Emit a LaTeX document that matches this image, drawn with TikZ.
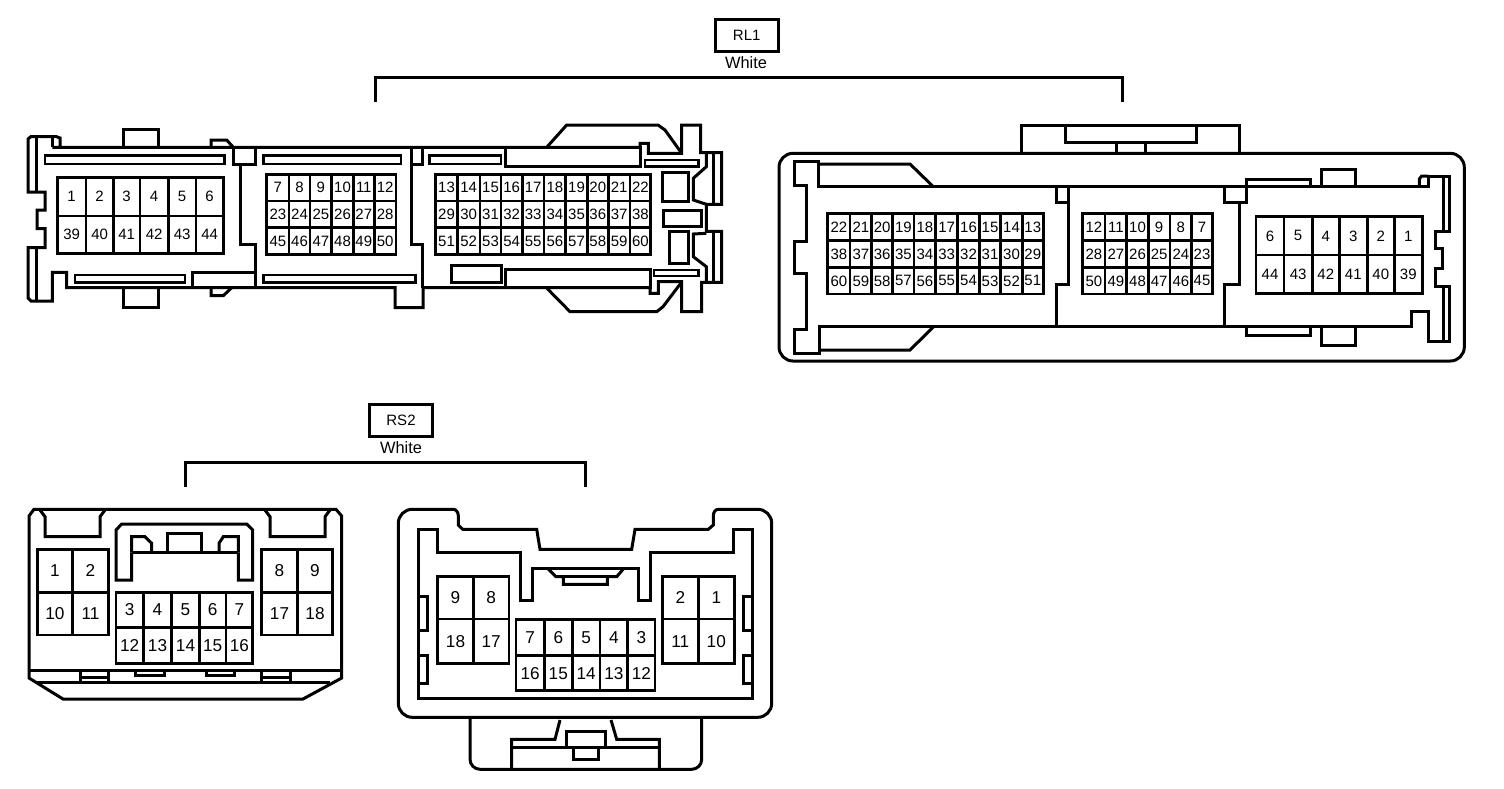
\documentclass[tikz,border=0pt]{standalone}
\usepackage{fontspec}
\setmainfont{Liberation Sans}

\tikzset{
  part/.style={line width=1.5pt, line join=miter},
  slim/.style={line width=1.3pt},
  pinbox/.style={line width=1.3pt},
  pinnum/.style={inner sep=0pt, font=\fontsize{7.5}{9}\selectfont},
  pinbig/.style={inner sep=0pt, font=\fontsize{8.6}{10}\selectfont},
  tagbox/.style={draw, line width=1.5pt, minimum width=31.5pt, minimum height=16pt, inner sep=0pt, font=\fontsize{7.5}{9}\selectfont},
  tagtext/.style={inner sep=0pt, font=\fontsize{8.2}{9}\selectfont},
}

% prefix, numstyle, top, bottom, first x, {next x/label,...}
\newcommand{\pinrow}[6]{%
  \foreach \xb/\lbl [remember=\xb as \xa (initially #5)] in {#6} {
    \draw[pinbox] (\xa,#3) rectangle (\xb,#4);
    \node[#2] (#1-\lbl) at ({(\xa+\xb)/2},{(#3+#4)/2}) {\lbl};
  }%
}

\begin{document}
\begin{tikzpicture}[x=0.5pt,y=-0.5pt]
      \useasboundingbox (0,0) rectangle (1504,788);

      % tags and brackets
      \node[tagbox] (rlone) at (746.7,35.5) {RL1};
      \node[tagtext] (rlonecol) at (746,63) {White};
      \coordinate (rlonea) at (375,102);
      \coordinate (rloneb) at (1122,102);
      \draw[part] (rlonea) -- (375,77.7) -- (1122,77.7) -- (rloneb);

      \node[tagbox] (rstwo) at (401,420) {RS2};
      \node[tagtext] (rstwocol) at (401,448) {White};
      \coordinate (rstwoa) at (185,487);
      \coordinate (rstwob) at (585,487);
      \draw[part] (rstwoa) -- (185,462) -- (585,462) -- (rstwob);

      % RL1 left half
      \draw[part] (60,147.3) -- (60,138) -- (56,136.5) -- (31,136.5) -- (28,139) -- (28,192) -- (45,192) -- (45,210) -- (37,210) -- (37,228.5)
        -- (45,228.5) -- (45,247.5) -- (28,247.5) -- (28,298) -- (31,301) -- (52.3,301) -- (52.3,272.3) -- (66.7,272.3) -- (66.7,287.7)
        -- (395,287.7) -- (395,307.7) -- (423,307.7) -- (423,287.7) -- (650,287.7) -- (650,293.3) -- (658.3,293.3) -- (658.3,281.7) -- (681.7,281.7)
        -- (681.7,311.7) -- (701.7,311.7) -- (701.7,282.3) -- (721.7,282.3) -- (721.7,231.3) -- (706.3,231.3) -- (706.3,204.3) -- (721.7,204.3)
        -- (721.7,152.7) -- (700.7,152.7) -- (700.7,125) -- (681.7,125) -- (681.7,153.3) -- (648.3,153.3) -- (648.3,143.3) -- (640,143.3) -- (640,147.3) -- (52.3,147.3);
      \draw[part] (52.3,147.3) -- (52.3,136.5);
      \draw[part] (36.7,136.5) -- (36.7,192);
      \draw[part] (36.7,247.5) -- (36.7,300);
      \draw[part] (123.3,147.3) -- (123.3,129) -- (158.3,129) -- (158.3,147.3);
      \draw[part] (123.3,287.7) -- (123.3,307.7) -- (158.3,307.7) -- (158.3,287.7);
      \draw[part] (211,147.3) -- (211,140) -- (226.7,140) -- (233.3,147.3);
      \draw[part] (211,287.7) -- (211,295.7) -- (223.3,295.7) -- (231.7,287.7);
      \draw[part] (233.3,147.3) rectangle (255,164);
      \draw[part] (240,164) -- (240,244.3) -- (255,244.3) -- (255,287.7);
      \draw[part] (411.7,147.3) rectangle (422.7,164);
      \draw[part] (411.7,164) -- (411.7,244.3) -- (422.7,244.3) -- (422.7,287.7);
      \draw[slim] (45,155.7) rectangle (224.3,164);
      \draw[slim] (263.3,155.7) rectangle (401,164);
      \draw[slim] (429.3,155.7) rectangle (501,164);
      \draw[slim] (75,275) rectangle (185,282.7);
      \draw[slim] (263.3,275) rectangle (415.7,282.7);
      \draw[part] (192.7,272.3) rectangle (255,287.7);
      \draw[part] (451,265) rectangle (501,282.7);
      \draw[part] (505,147.3) rectangle (640,166.7);
      \draw[part] (505,269.3) rectangle (650,287.7);
      \draw[part] (546.7,147.3) -- (566.7,125) -- (658,125) -- (665,130) -- (681.7,153.3);
      \draw[part] (546.7,288) -- (570,311.7) -- (656.7,311.7) -- (663,306.7) -- (681.7,282);
      \draw[slim] (645,160) rectangle (698.3,166.7);
      \draw[slim] (654,270) rectangle (698.3,276);
      \draw[part] (662.3,172.7) rectangle (688.3,201.7);
      \draw[part] (663.3,210) rectangle (701,226);
      \draw[part] (669.3,231.7) rectangle (688.3,263.3);
      \draw[part] (706.3,152.7) -- (706.3,166.7) -- (693.3,178.3) -- (693.3,200) -- (706.3,204.3);
      \draw[part] (706.3,233.3) -- (693.3,234) -- (693.3,256.7) -- (706.3,266.7) -- (706.3,282.3);
      \draw[part] (713.3,152.7) -- (713.3,204.3);
      \draw[part] (713.3,231.3) -- (713.3,282.3);

      \pinrow{a}{pinnum}{177.3}{216}{57.3}{86/1,113.3/2,140/3,168.3/4,196/5,223.3/6}
      \pinrow{a}{pinnum}{216}{253.3}{57.3}{86/39,113.3/40,140/41,168.3/42,196/43,223.3/44}
      \pinrow{b}{pinnum}{174.3}{201}{266.7}{289/7,310/8,331.7/9,353.3/10,374.3/11,396/12}
      \pinrow{b}{pinnum}{201}{227.7}{266.7}{289/23,310/24,331.7/25,353.3/26,374.3/27,396/28}
      \pinrow{b}{pinnum}{227.7}{254.3}{266.7}{289/45,310/46,331.7/47,353.3/48,374.3/49,396/50}
      \pinrow{c}{pinnum}{174.3}{201}{435.7}{457.3/13,480/14,501/15,522.3/16,544/17,565.7/18,587.3/19,608.3/20,630/21,650.7/22}
      \pinrow{c}{pinnum}{201}{227.7}{435.7}{457.3/29,480/30,501/31,522.3/32,544/33,565.7/34,587.3/35,608.3/36,630/37,650.7/38}
      \pinrow{c}{pinnum}{227.7}{254.3}{435.7}{457.3/51,480/52,501/53,522.3/54,544/55,565.7/56,587.3/57,608.3/58,630/59,650.7/60}

      % RL1 right half
      \draw[part,rounded corners=7pt] (779,153.3) rectangle (1464.3,361);
      \draw[part] (1021,153.3) -- (1021,125.7) -- (1239.3,125.7) -- (1239.3,153.3);
      \draw[part] (1065,125.7) -- (1065,142.3) -- (1196,142.3) -- (1196,125.7);
      \draw[part] (1116,142.3) -- (1116,153.3);
      \draw[part] (1145,142.3) -- (1145,153.3);
      \draw[part] (818.3,186.7) -- (818.3,161.7) -- (794,161.7) -- (794,185.7) -- (806.7,185.7) -- (806.7,241) -- (794,241) -- (794,273.3) -- (806.7,273.3)
        -- (806.7,329) -- (794,329) -- (794,353.3) -- (819,353.3) -- (819,326.7) -- (1411.7,326.7) -- (1411.7,311.7) -- (1428.3,311.7) -- (1428.3,341)
        -- (1449.3,341) -- (1449.3,286.7) -- (1435,286.7) -- (1435,268.3) -- (1442.7,268.3) -- (1442.7,248.3) -- (1435,248.3) -- (1435,231) -- (1449.3,231)
        -- (1449.3,176) -- (1428.3,176) -- (1428.3,186.7) -- cycle;
      \draw[part] (1428.3,176) -- (1421.7,176) -- (1419.3,179) -- (1419.3,186.7);
      \draw[part] (1443.3,176) -- (1443.3,231);
      \draw[part] (1443.3,286.7) -- (1443.3,341);
      \draw[part] (818.3,164) -- (910,164) -- (933.3,186.7);
      \draw[part] (819,350) -- (910,350) -- (933.3,327);
      \draw[part] (1321,186.7) -- (1321,169.3) -- (1355.7,169.3) -- (1355.7,186.7);
      \draw[part] (1321,326.7) -- (1321,345.7) -- (1355.7,345.7) -- (1355.7,326.7);
      \draw[part] (1246,186.7) -- (1246,179) -- (1310,179) -- (1310,186.7);
      \draw[part] (1246,326.7) -- (1246,335) -- (1310,335) -- (1310,326.7);
      \draw[part] (1056.7,186.7) -- (1056.7,202.7) -- (1068.3,202.7);
      \draw[part] (1068.3,186.7) -- (1068.3,284.3) -- (1056.7,284.3) -- (1056.7,326.7);
      \draw[part] (1224,186.7) -- (1224,202.7) -- (1246,202.7) -- (1246,186.7);
      \draw[part] (1239.3,202.7) -- (1239.3,284.3) -- (1224,284.3) -- (1224,326.7);

      \pinrow{d}{pinnum}{213.3}{240.7}{827.7}{850/22,871.7/21,892.7/20,914/19,935.7/18,957.7/17,979.3/16,1000.7/15,1022.3/14,1043.3/13}
      \pinrow{d}{pinnum}{240.7}{267.7}{827.7}{850/38,871.7/37,892.7/36,914/35,935.7/34,957.7/33,979.3/32,1000.7/31,1022.3/30,1043.3/29}
      \pinrow{d}{pinnum}{267.7}{294}{827.7}{850/60,871.7/59,892.7/58,914/57,935.7/56,957.7/55,979.3/54,1000.7/53,1022.3/52,1043.3/51}
      \pinrow{e}{pinnum}{213.3}{240.7}{1082.7}{1105/12,1126.7/11,1148.3/10,1170/9,1191.7/8,1212.3/7}
      \pinrow{e}{pinnum}{240.7}{267.7}{1082.7}{1105/28,1126.7/27,1148.3/26,1170/25,1191.7/24,1212.3/23}
      \pinrow{e}{pinnum}{267.7}{294}{1082.7}{1105/50,1126.7/49,1148.3/48,1170/47,1191.7/46,1212.3/45}
      \pinrow{f}{pinnum}{216.7}{255}{1256}{1284/6,1312.3/5,1339.3/4,1367.3/3,1394.3/2,1422.3/1}
      \pinrow{f}{pinnum}{255}{293.3}{1256}{1284/44,1312.3/43,1339.3/42,1367.3/41,1394.3/40,1422.3/39}

      % RS2 left half
      \draw[part] (29,675) -- (29,516) -- (34,509.3) -- (336,509.3) -- (341.7,516) -- (341.7,678) -- (303,699) -- (63,699) -- (29,678) -- cycle;
      \draw[part] (29,670.7) -- (341.7,670.7);
      \draw[part] (36,682.7) -- (330,682.7);
      \draw[part] (40,510) -- (45,516.7) -- (45,536.7) -- (100,536.7) -- (100,516.7) -- (105,510);
      \draw[part] (265,510) -- (270,516.7) -- (270,536.7) -- (325,536.7) -- (325,516.7) -- (330,510);
      \draw[part] (131.7,552.3) -- (131.7,580) -- (116,580) -- (116,530) -- (121.7,524) -- (246.7,524) -- (252.7,530) -- (252.7,580) -- (238.3,580) -- (238.3,552.3);
      \draw[part] (131.7,552.3) -- (131.7,536.7) -- (145,536.7) -- (151.7,543.3) -- (151.7,552.3);
      \draw[part] (238.3,552.3) -- (238.3,536.7) -- (223.3,536.7) -- (219,543.3) -- (219,552.3);
      \draw[part] (131.7,552.3) -- (238.3,552.3);
      \draw[part] (167.7,552.3) -- (167.7,533.3) -- (201.7,533.3) -- (201.7,552.3);
      \draw[part] (80.7,670.7) -- (80.7,682.7);
      \draw[part] (108.3,670.7) -- (108.3,682.7);
      \draw[part] (80.7,677) -- (108.3,677);
      \draw[part] (261.7,670.7) -- (261.7,682.7);
      \draw[part] (290,670.7) -- (290,682.7);
      \draw[part] (261.7,677) -- (290,677);
      \draw[part] (135,670.7) -- (135,675.7) -- (164,675.7) -- (164,670.7);
      \draw[part] (206,670.7) -- (206,675.7) -- (234,675.7) -- (234,670.7);

      \pinrow{g}{pinbig}{549.3}{592.3}{37.3}{72.7/1,108.3/2}
      \pinrow{g}{pinbig}{592.3}{635}{37.3}{72.7/10,108.3/11}
      \pinrow{h}{pinbig}{592.3}{627.3}{116}{143.3/3,171.7/4,199.3/5,226/6,252.7/7}
      \pinrow{h}{pinbig}{627.3}{663.3}{116}{143.3/12,171.7/13,199.3/14,226/15,252.7/16}
      \pinrow{i}{pinbig}{549.3}{592.3}{261.7}{297.3/8,332.7/9}
      \pinrow{i}{pinbig}{592.3}{635}{261.7}{297.3/17,332.7/18}

      % RS2 right half
      \draw[part] (412,509.3) -- (453.3,509.3) to[out=0,in=90] (458.3,516) -- (458.3,525) -- (462.7,529.3) -- (536.7,529.3) -- (540,549.3) -- (631.7,549.3) -- (635,529.3)
        -- (708.3,529.3) -- (713.3,525) -- (713.3,516) to[out=90,in=180] (718.3,509.3) -- (757,509.3);
      \draw[part,rounded corners=7pt] (757,509.3) -- (771.7,509.3) -- (771.7,717.3) -- (398.3,717.3) -- (398.3,509.3) -- (412,509.3);
      \draw[part] (418.3,529.3) -- (418.3,698.3) -- (752.7,698.3) -- (752.7,529.3) -- (733.3,529.3) -- (733.3,552.7) -- (650,552.7) -- (650,600) -- (638.3,600) -- (638.3,568.3)
        -- (532.7,568.3) -- (532.7,600) -- (520.7,600) -- (520.7,552.7) -- (437.7,552.7) -- (437.7,529.3) -- cycle;
      \draw[part] (548.3,569) -- (556,576.7) -- (563.3,576.7) -- (563.3,584.3) -- (607.3,584.3) -- (607.3,576.7) -- (616.7,576.7) -- (623.3,569);
      \draw[part] (556,576.7) -- (616.7,576.7);
      \draw[part] (418.3,596) -- (427.7,596) -- (427.7,630.7) -- (418.3,630.7);
      \draw[part] (418.3,655) -- (427.7,655) -- (427.7,683.3) -- (418.3,683.3);
      \draw[part] (752.7,596) -- (743.3,596) -- (743.3,630.7) -- (752.7,630.7);
      \draw[part] (752.7,655) -- (743.3,655) -- (743.3,683.3) -- (752.7,683.3);
      \draw[part,rounded corners=5pt] (470,717.3) -- (470,769.3) -- (701.7,769.3) -- (701.7,717.3);
      \draw[part] (511.7,769.3) -- (511.7,739.3) -- (555,739.3) -- (560,720);
      \draw[part] (659.3,769.3) -- (659.3,739.3) -- (616.7,739.3) -- (611,720);
      \draw[part] (511.7,747.3) -- (659.3,747.3);
      \draw[part] (566,747.3) -- (566,731.7) -- (605,731.7) -- (605,747.3);
      \draw[part] (573.3,747.3) -- (573.3,759.3) -- (598.3,759.3) -- (598.3,747.3);

      \pinrow{j}{pinbig}{576.7}{619}{437.7}{473.3/9,509/8}
      \pinrow{j}{pinbig}{619}{663.3}{437.7}{473.3/18,509/17}
      \pinrow{k}{pinbig}{619.3}{655.7}{516}{544.3/7,572.3/6,600/5,627.7/4,655/3}
      \pinrow{k}{pinbig}{655.7}{690.7}{516}{544.3/16,572.3/15,600/14,627.7/13,655/12}
      \pinrow{m}{pinbig}{576.7}{619}{662.3}{698.3/2,734.3/1}
      \pinrow{m}{pinbig}{619}{663.3}{662.3}{698.3/11,734.3/10}
\end{tikzpicture}
\end{document}
